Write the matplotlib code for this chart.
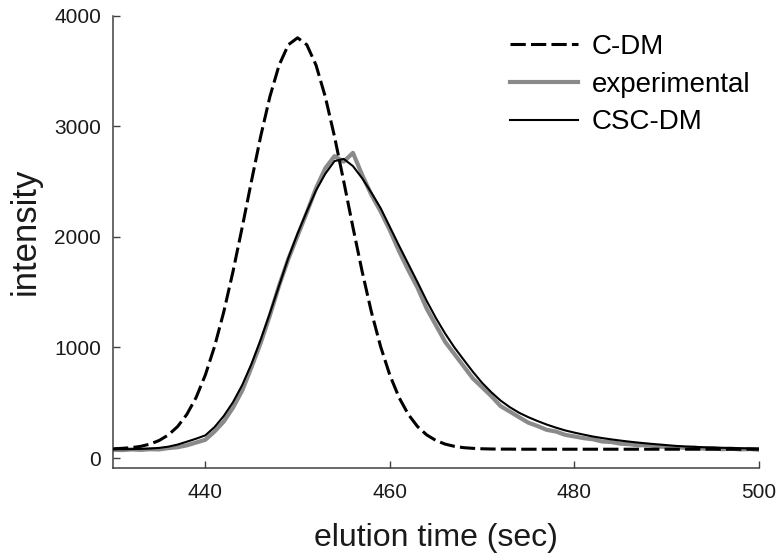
import matplotlib
matplotlib.use("Agg")
import matplotlib.pyplot as plt

plt.rcParams['font.family'] = ['Liberation Sans', 'DejaVu Sans']

# elution time (sec), one point per second
time = list(range(430, 501))

c_dm = [84, 88, 94, 106, 126, 159, 209, 285, 395, 547, 750, 1008, 1321, 1686,
        2087, 2503, 2908, 3268, 3553, 3737, 3800,
        3737, 3553, 3268, 2908, 2503, 2087, 1686, 1321, 1008, 750, 547, 395,
        285, 209, 159, 126, 106, 94, 88, 84, 82, 81, 81, 80, 80, 80, 80, 80,
        80, 80, 80, 80, 80, 80, 80, 80, 80, 80, 80, 80, 80, 80, 80, 80, 80,
        80, 80, 80, 80, 80]

experimental = [75, 72, 78, 74, 80, 78, 90, 98, 115, 140, 165, 240, 330, 455,
                610, 820, 1040, 1290, 1560, 1800, 2010, 2220, 2440, 2620, 2730,
                2680, 2760, 2560, 2380, 2230, 2060, 1870, 1700, 1540, 1350,
                1200, 1050, 940, 830, 720, 640, 560, 470, 420, 370, 320, 290,
                255, 240, 210, 195, 180, 170, 150, 145, 130, 125, 115, 118,
                105, 100, 98, 92, 95, 85, 90, 80, 85, 78, 82, 75]

csc_dm = [80, 80, 81, 83, 86, 92, 103, 122, 148, 175, 205, 280, 380, 505, 660,
          850, 1070, 1310, 1560, 1810, 2030, 2230, 2420, 2570, 2685, 2705,
          2640, 2530, 2400, 2260, 2090, 1920, 1755, 1590, 1420, 1265, 1125,
          1000, 889, 780, 680, 595, 520, 460, 410, 370, 335, 303, 275, 250,
          230, 212, 195, 181, 169, 158, 148, 139, 131, 124, 117, 110, 105,
          101, 98, 95, 93, 91, 89, 87, 86]

x_ticks = [440, 460, 480, 500]
y_ticks = [0, 1000, 2000, 3000, 4000]

fig = plt.figure(figsize=(7.8, 5.54), dpi=100)
ax = fig.add_axes([0.1449, 0.1552, 0.973 - 0.1449, 0.9717 - 0.1552])

l_exp, = ax.plot(time, experimental, color='#8a8a8a', lw=3.0, label='experimental',
                 solid_joinstyle='round', zorder=1)
l_cdm, = ax.plot(time, c_dm, color='black', lw=2.2, linestyle=(0, (5, 1.7)),
                 label='C-DM', zorder=2)
l_csc, = ax.plot(time, csc_dm, color='black', lw=1.5, label='CSC-DM', zorder=3)

ax.set_xlim(430, 500)
ax.set_ylim(-90, 4000)
ax.set_xticks(x_ticks)
ax.set_yticks(y_ticks)

for side in ['top', 'right']:
    ax.spines[side].set_visible(False)
for side in ['left', 'bottom']:
    ax.spines[side].set_color('#404040')
    ax.spines[side].set_linewidth(1.1)

ax.tick_params(axis='both', direction='in', length=5, width=1.0, color='#404040',
               labelsize=15, labelcolor='#1a1a1a')
ax.tick_params(axis='x', pad=11)
ax.tick_params(axis='y', pad=8.5)

ax.set_xlabel('elution time (sec)', fontsize=23, color='#1a1a1a', labelpad=15)
ax.set_ylabel('intensity', fontsize=25, color='#1a1a1a')
ax.yaxis.set_label_coords(-0.11, 0.524)

ax.legend(handles=[l_cdm, l_exp, l_csc], loc='upper left',
          bbox_to_anchor=(510 / 780, 1 - 34 / 554), bbox_transform=fig.transFigure,
          frameon=False, fontsize=20, handlelength=2.45, handletextpad=0.5,
          labelspacing=0.42, borderpad=0, borderaxespad=0)

fig.savefig('out.png', dpi=100)
